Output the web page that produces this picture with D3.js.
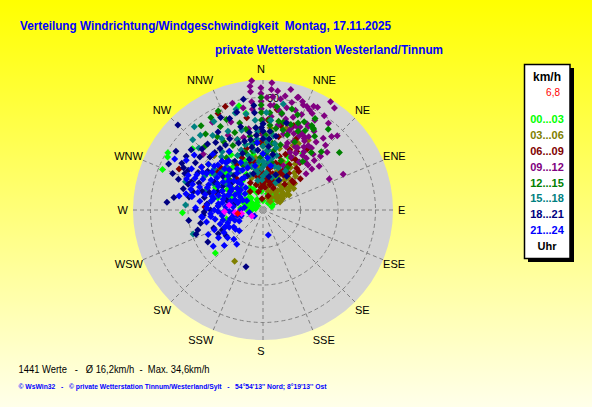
<!DOCTYPE html>
<html><head><meta charset="utf-8">
<script src="https://cdn.jsdelivr.net/npm/d3@7"></script>
<style>body{margin:0;overflow:hidden;} svg{display:block;} text{font-family:"Liberation Sans",Arial,sans-serif;white-space:pre;}</style>
</head><body>
<svg id="c" width="592" height="407"></svg>
<script>
// ---- data ----
const directionLabels = ["N","NNE","NE","ENE","E","ESE","SE","SSE","S","SSW","SW","WSW","W","WNW","NW","NNW"];
const ringTicks = [10, 20, 30];
const ringLabelTicks = [30];
const hourLabels = ["00...03","03...06","06...09","09...12","12...15","15...18","18...21","21...24"];
const currentSpeed = "6,8";
const statCount = 1441, statMean = "16,2", statMax = "34,6";
// each point: [direction in degrees (0 = N, clockwise), speed km/h]
const h00_03 = [[301,29.6],[299,29.1],[292,28.9],[311,24.9],[268,21.5],[228,17.1],[347,28.5],[350,26.2],[28,14.2],[35,18.4],[25,15.7],[12,6.8],[38,2.3],[285,4.5],[288,3.5],[292,2.6],[300,2.0],[310,1.8],[320,2.5],[330,3.2],[300,5.5],[295,6.5],[305,7.5],[315,8.5],[325,9.5],[335,10.5],[320,12],[310,13],[300,11],[290,9],[282,7.5],[275,6],[256,10],[254,8.2],[265,4],[20,3.7],[15,4.5],[30,5],[45,4],[60,3],[340,14],[330,17],[318,20],[305,17],[312,15.5],[345,7],[355,5],[5,9],[10,12],[350,15],[295,14],[285,12.5],[270,3],[280,2],[0,2.5],[70,2.5],[50,6],[40,8],[297,4],[303,3.5],[315,4.5],[325,6],[290,5.5],[278,4],[320,6],[330,7],[340,5],[310,5],[300,8.5],[290,10.5],[305,10],[315,14],[325,14],[335,16],[345,18],[355,12],[5,14],[15,8],[25,9],[335,6]];
const h03_06 = [[33,22.2],[16,22.7],[28,20.1],[49,9.5],[25,10.3],[20,11],[30,9],[35,8],[42,7.3],[49,9.8],[49,5.4],[36,9.9],[45,8.5],[55,7],[60,6],[40,5.5],[30,6],[25,7.5],[50,4.8],[16,5.1],[20,3.5],[354,11.2],[6,12.5],[10,15],[2,18],[209,15.6],[318,19.5],[325,16],[340,9],[350,7],[12,8],[38,11],[44,12.5],[33,13.5],[22,14],[40,3],[58,4.5],[65,5],[28,4],[355,20],[15,17],[5,22],[47,7],[53,8.5],[37,6.5],[45,10],[40,13],[35,15],[30,16],[20,18],[25,19],[50,11],[55,10],[57,7.5],[60,8],[52,6],[44,5],[34,4],[24,5.5],[10,6],[5,7],[0,9],[352,14],[345,10],[18,9],[28,12]];
const h06_09 = [[39,14.3],[29,15.8],[24,17.6],[30,10.8],[346,5],[340,29.4],[335,28.4],[296,24.9],[273,15.5],[35,12],[20,13],[15,10],[10,8],[5,12],[0,15],[355,10],[350,13],[345,17],[340,20],[330,14],[320,11],[310,9],[5,6],[25,6.5],[40,9],[45,11],[30,18],[12,20],[3,24],[358,21],[20,24],[10,18],[50,13],[335,8],[325,6],[300,10],[290,13],[315,16],[305,20],[20,4],[355,3],[8,27],[350,25],[0,10],[3,9],[8,11],[12,12],[17,15],[22,16],[27,12],[33,16],[36,20],[43,14],[48,11],[355,8],[350,10],[345,13],[338,15],[330,10],[320,14],[310,16],[5,16],[358,18],[12,23],[25,21],[355,6],[0,7],[5,8],[10,10],[15,7],[20,8],[350,9],[345,7],[340,12],[0,12],[8,14],[15,13],[25,11],[30,14],[38,16]];
const h09_12 = [[355,34.6],[4,34],[354,33.2],[354,31.7],[359,32.6],[359,31.1],[4,32.2],[5,30.3],[17,31.4],[21,30],[23,30],[25,29.4],[27,28.9],[32,34],[35,33.2],[30,27.6],[27,25.8],[24,24.2],[43,26.8],[66,23.4],[65,19.5],[27,18.9],[344,29.6],[349,27.7],[313,21.8],[354,29],[354,27],[359,29],[359,27],[4,28],[9,30],[9,27],[13,28],[14,25],[18,26],[22,22],[30,22],[35,21],[38,23],[33,25],[40,18],[45,17],[37,16],[28,16],[20,19],[15,21],[5,25],[10,23],[0,24],[350,22],[345,20],[340,25],[335,22],[330,27],[355,18],[0,20],[25,13],[50,15],[15,29.7],[20,30.8],[17.5,31.5],[26,30.8],[28.5,25.3],[26,22],[29,22.5],[31,21.5],[22,27.5],[18,28],[2,30],[7,32],[11,31],[13,33],[6,28],[11,26],[16,24],[19,23],[24,20],[29,19],[33,20],[36,18],[42,20],[47,21],[52,19],[40,25],[45,28],[37,29],[33,30],[28,31],[20,18],[25,17],[30,17.5],[35,19],[38,21],[32,23],[27,23],[22,24],[18,22],[42,17],[46,19],[50,17],[44,24],[48,23]];
const h12_15 = [[7.6,27.8],[29.6,28.1],[31.6,25.6],[53,25.5],[4.7,22.7],[32,25.4],[38.9,27.7],[39.4,16.7],[11,26.3],[323.7,27.9],[330.6,28.3],[335.7,29],[322.9,25.4],[359,30],[359,28],[359,26],[359,24],[4,26],[4,24],[9,22],[13,24],[18,24],[22,25],[25,20],[35,24],[15,18],[10,16],[5,19],[0,17],[355,22],[350,20],[345,24],[340,22],[335,19],[330,21],[325,17],[318,23],[310,19],[350,16],[20,14],[30,13],[10,13],[0,12],[345,12],[336,13],[312,12],[300,14],[2,20],[6,21],[10,24],[14,22],[18,21],[24,23],[28,24],[8,18],[3,15],[357,14],[352,18],[348,22],[343,16],[338,26],[333,25],[328,23],[25,26],[30,26],[40,20],[45,22],[20,27],[16,28]];
const h15_18 = [[320.5,28.8],[331,27],[345,27.8],[273.7,20.7],[251,19.7],[314,23.8],[10.8,28.8],[344,26.9],[315,26.5],[1.6,19.1],[0,21],[0,17],[0,15],[0,13],[4,18],[4,16],[8,20],[8,14],[12,17],[355,19],[355,16],[355,13],[350,18],[350,11],[345,15],[340,17],[340,13],[335,16],[330,12],[325,19],[320,15],[310,17],[305,12],[300,18],[15,12],[20,10],[5,10],[358,8],[350,8],[340,10],[330,22],[336,23],[345,22],[355,24],[5,24],[2,26],[290,22],[290,16],[280,14],[358,11],[2,12],[6,13],[10,14],[348,14],[352,16],[356,21],[0,23],[345,18],[340,20],[335,14],[328,15],[322,18],[318,13],[312,15],[306,16],[298,15],[0,9],[5,16],[10,18],[14,15],[352,10],[346,12],[326,24],[320,26],[350,26],[15,9],[25,8],[30,12],[20,12]];
const h18_21 = [[315,32.1],[274.6,25.7],[253,18.2],[268,15.7],[242,13.5],[244,12.1],[196.7,15.8],[335.4,27.1],[289,21.1],[291.6,20.5],[284.7,19.3],[298,22.6],[293,18.5],[287,17],[300,20],[305,22],[310,25],[320,23],[325,20],[330,24],[340,26],[345,23],[350,21],[355,26],[359,22],[355,28],[350,30],[345,27],[330,18],[320,17],[310,14],[300,15],[295,12],[285,10],[280,8],[275,12],[270,18],[262,20],[258,17],[250,14],[235,12],[345,14],[355,16],[0,19],[5,21],[10,20],[15,24],[340,16],[315,20],[305,18],[298,24],[292,26],[350,17],[350,19],[355,20],[355,22],[0,21],[0,23],[5,17],[5,19],[10,15],[345,19],[340,19],[335,21],[330,20],[325,22],[320,20],[315,23],[310,22],[305,25],[300,25],[295,23],[290,24],[285,22],[280,20],[278,24],[296,28],[304,28],[288,15],[282,16],[276,15],[270,14],[265,16],[310,11],[320,12],[330,15],[335,10],[345,10],[300,12.5],[292,13],[250,19],[240,17],[10,9],[20,10],[28,9],[35,11]];
const h21_24 = [[300,27.2],[303,24.4],[279.5,22.7],[280.6,19.4],[263.8,16.5],[303,17.9],[281,19.2],[263,16.3],[258,15.4],[263,14],[248,14],[245.5,11.2],[243,10.1],[229,8.4],[217.5,11.5],[234,16.4],[227.6,14],[260,3.7],[235,2.8],[168,6.8],[308.7,23.5],[300,22],[295,20],[290,18],[285,16],[280,14],[275,12],[270,10],[265,8],[290,14],[295,12],[300,10],[305,13],[310,15],[315,17],[320,14],[325,12],[300,16],[310,19],[305,20],[295,16],[285,11],[280,9],[290,8],[300,7],[310,9],[315,11],[320,9],[288,12.5],[283,13.5],[293,10],[298,13.5],[278,17],[272,15],[268,12],[262,11],[255,9],[250,10],[240,12],[235,9],[245,7],[255,6],[270,6],[278,5],[312,6.5],[322,7.5],[330,10],[335,14],[340,12],[325,16],[330,18],[318,20],[310,12],[305,8],[296,6],[286,7],[276,8],[268,9],[259,13],[252,12],[246,16],[238,14],[292,22],[286,20],[282,21],[297,18],[304,10],[314,13],[0,15],[5,14],[355,18],[10,12],[350,12],[285,18],[290,20],[295,22],[298,20],[302,19],[307,17],[312,17.5],[317,15],[322,16],[300,14],[305,15],[295,10],[290,11],[285,9],[280,11],[275,10],[270,13],[265,11],[260,8],[250,8],[275,15],[272,18],[285,14],[278,12],[292,16],[288,7],[298,8.5],[306,11],[312,8],[318,10],[325,10],[328,13],[333,12],[320,17],[266,14],[256,11],[246,11],[240,9],[232,12],[225,11],[258,7],[300,5]];
const lastValues = [[278,9.1],[267.5,10.3],[261,5.8],[242,3.4],[265,7.5]];
const currentValue = [[262,6.8]];

// ---- styles ----
const hourColors = ["#00ff00","#808000","#800000","#800080","#008000","#008080","#000080","#0000ff"];
const groups = [h00_03,h03_06,h06_09,h09_12,h12_15,h15_18,h18_21,h21_24];

const svg = d3.select("#c");
const defs = svg.append("defs");
const grad = defs.append("linearGradient").attr("id","bg").attr("x1",0).attr("y1",0).attr("x2",0).attr("y2",1);
grad.append("stop").attr("offset","0%").attr("stop-color","#ffff00");
grad.append("stop").attr("offset","100%").attr("stop-color","#ffffea");
svg.append("rect").attr("width",592).attr("height",407).attr("fill","url(#bg)");

const cx = 263, cy = 210;
const r = d3.scaleLinear().domain([0, 30]).range([0, 112.5]);
const a = d3.scaleLinear().domain([0, 360]).range([0, 2*Math.PI]);
const rMax = r(34.67);

const plot = svg.append("g").attr("transform", `translate(${cx},${cy})`);
plot.append("circle").attr("r", rMax).attr("fill", "#d3d3d3");

// radial dashed lines
plot.selectAll("line.spoke").data(directionLabels).join("line")
  .attr("class","spoke")
  .attr("x1",0).attr("y1",0)
  .attr("x2",(d,i)=>d3.pointRadial(a(i*22.5), rMax)[0])
  .attr("y2",(d,i)=>d3.pointRadial(a(i*22.5), rMax)[1])
  .attr("stroke","#808080").attr("stroke-width",1).attr("stroke-dasharray","4,3");
plot.selectAll("circle.ring").data(ringTicks).join("circle")
  .attr("class","ring").attr("r", d=>r(d)).attr("fill","none")
  .attr("stroke","#808080").attr("stroke-width",1).attr("stroke-dasharray","4,3");
plot.selectAll("text.rl").data(ringLabelTicks).join("text")
  .attr("class","rl").attr("x",4).attr("y",d=>-r(d)+4)
  .attr("font-size",11).attr("fill","#000").text(d=>d);

// direction labels
const lblX = (i) => { const s = Math.sin(a(i*22.5)); const R = (i % 8 === 4) ? 135 : 130; return Math.abs(s) < 0.01 ? -2 : R*s; };
const lblAnchor = (i) => { const s = Math.sin(a(i*22.5)); return Math.abs(s) < 0.01 ? "middle" : (s > 0 ? "start" : "end"); };
plot.selectAll("text.dir").data(directionLabels).join("text")
  .attr("class","dir")
  .attr("x",(d,i)=>lblX(i))
  .attr("y",(d,i)=>-141*Math.cos(a(i*22.5))+4)
  .attr("text-anchor",(d,i)=>lblAnchor(i)).attr("font-size",11).attr("fill","#000").text(d=>d);

const diamond = "M0,-3.5L3.5,0L0,3.5L-3.5,0Z";
const place = d => { const p = d3.pointRadial(a(d[0]), r(d[1])); return `translate(${p[0]},${p[1]})`; };
groups.forEach((g, gi) => {
  plot.append("g").selectAll("path").data(g).join("path")
    .attr("d", diamond).attr("transform", place).attr("fill", hourColors[gi]);
});
plot.append("g").selectAll("path").data(lastValues).join("path")
  .attr("d", diamond).attr("transform", place).attr("fill", "#ff00ff");
plot.append("g").selectAll("path").data(currentValue).join("path")
  .attr("d", diamond).attr("transform", place).attr("fill", "#ff0000");
plot.append("rect").attr("x",-2).attr("y",-2).attr("width",4).attr("height",4).attr("fill","#a0a0a0");

// titles
svg.append("text").attr("x",20).attr("y",29.5).attr("font-size",12).attr("font-weight","bold").attr("fill","#0000ff")
  .attr("textLength",371).attr("lengthAdjust","spacingAndGlyphs")
  .text("Verteilung Windrichtung/Windgeschwindigkeit  Montag, 17.11.2025");
svg.append("text").attr("x",215).attr("y",54).attr("font-size",12).attr("font-weight","bold").attr("fill","#0000ff")
  .attr("textLength",228).attr("lengthAdjust","spacingAndGlyphs")
  .text("private Wetterstation Westerland/Tinnum");

// legend
svg.append("rect").attr("x",528).attr("y",68).attr("width",46).attr("height",194).attr("fill","#000");
svg.append("rect").attr("x",524.5).attr("y",64.5).attr("width",45.5).attr("height",194).attr("fill","#fff").attr("stroke","#000").attr("stroke-width",1.5);
svg.append("text").attr("x",547).attr("y",81).attr("text-anchor","middle").attr("font-size",12).attr("font-weight","bold").attr("fill","#000").text("km/h");
svg.append("text").attr("x",560).attr("y",96).attr("text-anchor","end").attr("font-size",10).attr("fill","#ff0000").text(currentSpeed);
svg.append("g").selectAll("text").data(hourLabels).join("text")
  .attr("x",547).attr("y",(d,i)=>123.3 + i*15.8).attr("text-anchor","middle")
  .attr("font-size",11).attr("font-weight","bold").attr("fill",(d,i)=>hourColors[i]).text(d=>d);
svg.append("text").attr("x",547).attr("y",249.5).attr("text-anchor","middle").attr("font-size",11).attr("font-weight","bold").attr("fill","#000").text("Uhr");

// footer
svg.append("text").attr("x",18.5).attr("y",372.5).attr("font-size",11).attr("fill","#000")
  .attr("textLength",191).attr("lengthAdjust","spacingAndGlyphs")
  .text(`${statCount} Werte   -   Ø ${statMean}km/h  -  Max. ${statMax}km/h`);
svg.append("text").attr("x",18.5).attr("y",388.5).attr("font-size",8).attr("font-weight","bold").attr("fill","#0000ff")
  .attr("textLength",308).attr("lengthAdjust","spacingAndGlyphs")
  .text("© WsWin32   -   © private Wetterstation Tinnum/Westerland/Sylt   -   54°54'13'' Nord; 8°19'13'' Ost");
</script>
</body></html>
